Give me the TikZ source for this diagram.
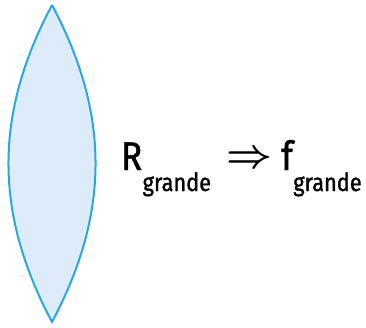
\documentclass[tikz,border=0pt]{standalone}
\usepackage{fontspec}
\usepackage{graphicx}
\usepackage{amsmath,amsbsy}
\setmainfont[FakeStretch=0.87,FakeBold=1.2]{Fira Sans}
\definecolor{lensline}{RGB}{41,168,224}
\definecolor{lensfill}{RGB}{221,235,250}
\begin{document}
\begin{tikzpicture}[x=1pt,y=-1pt,
  lens/.style={draw=lensline, line width=2pt, fill=lensfill, line join=miter},
  big/.style={inner sep=0pt, font=\fontsize{40}{40}\selectfont, anchor=base west},
  sub/.style={inner sep=0pt, font=\fontsize{25}{25}\selectfont, anchor=base west}]
\useasboundingbox (0,0) rectangle (366,327);
\coordinate (top) at (52,5);
\coordinate (bot) at (52,322);
\path[lens] (top) to[bend right=28] (bot) to[bend right=28] (top);
\node[big] (R) at (121,170) {R};
\node[sub] (s1) at (R.base east) [yshift=-21pt] {grande};
\node[inner sep=0pt] (arr) at (250,160) {\resizebox{46pt}{!}{$\boldsymbol{\Rightarrow}$}};
\node[big] (f) at (281,170) {f};
\node[sub] (s2) at (f.base east) [yshift=-21pt] {grande};
\end{tikzpicture}
\end{document}
